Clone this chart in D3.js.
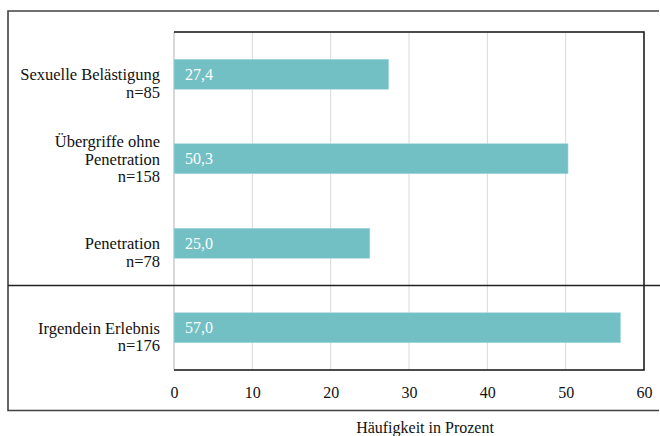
<!DOCTYPE html>
<html>
<head>
<meta charset="utf-8">
<script src="https://cdn.jsdelivr.net/npm/d3@7"></script>
<style>
  body { margin: 0; background: #fff; }
</style>
</head>
<body>
<svg width="660" height="436"></svg>
<script>
const categories = [
    ['Sexuelle Belästigung', 'n=85'],
    ['Übergriffe ohne', 'Penetration', 'n=158'],
    ['Penetration', 'n=78'],
    ['Irgendein Erlebnis', 'n=176']
]
const values = [27.4, 50.3, 25.0, 57.0]
const ticks = [0, 10, 20, 30, 40, 50, 60]
const axisTitle = 'Häufigkeit in Prozent'

const FONT = "'Liberation Serif', serif"
const svg = d3.select('svg').style('font-family', FONT)
const fmt = v => d3.format('.1f')(v).replace('.', ',')

const plot = { left: 174, right: 644, top: 32, bottom: 370 }

const xScale = d3.scaleLinear()
    .domain([0, 60])
    .range([plot.left, plot.right])

const yScale = d3.scaleBand()
    .domain(d3.range(values.length))
    .range([plot.top, plot.bottom])
    .paddingInner(0.645)
    .paddingOuter(0.3225)

// outer frame (left, top, bottom)
svg.append('path')
    .attr('d', `M659,11H8V410.5H659`)
    .attr('fill', 'none')
    .attr('stroke', '#404040')
    .attr('stroke-width', 1.6)

// gridlines
svg.append('g')
    .selectAll('line')
    .data(ticks.filter(t => t > 0 && t < 60))
    .join('line')
    .attr('x1', d => xScale(d)).attr('x2', d => xScale(d))
    .attr('y1', plot.top).attr('y2', plot.bottom)
    .attr('stroke', '#d9d9d9')
    .attr('stroke-width', 1)

// left axis line (gray)
svg.append('line')
    .attr('x1', xScale(0)).attr('x2', xScale(0))
    .attr('y1', plot.top).attr('y2', plot.bottom)
    .attr('stroke', '#bfbfbf')
    .attr('stroke-width', 1.2)

// bars
svg.append('g')
    .selectAll('rect')
    .data(values)
    .join('rect')
    .attr('x', xScale(0))
    .attr('y', (d, i) => yScale(i))
    .attr('width', d => xScale(d) - xScale(0))
    .attr('height', yScale.bandwidth())
    .attr('fill', '#72bfc4')
    .attr('stroke', '#a9dadd')
    .attr('stroke-width', 0.6)

// value labels
svg.append('g')
    .selectAll('text')
    .data(values)
    .join('text')
    .attr('x', xScale(0) + 11)
    .attr('y', (d, i) => yScale(i) + yScale.bandwidth() / 2)
    .attr('dy', '0.35em')
    .attr('fill', '#fff')
    .attr('font-size', 16)
    .text(d => fmt(d))

// plot border: top, right, bottom (black)
svg.append('path')
    .attr('d', `M${plot.left},${plot.top}H${plot.right}V${plot.bottom}H${plot.left}`)
    .attr('fill', 'none')
    .attr('stroke', '#111')
    .attr('stroke-width', 1.5)

// separator line between the detail rows and the total row
const sepY = (yScale(2) + yScale.bandwidth() + yScale(3)) / 2
svg.append('line')
    .attr('x1', 8).attr('x2', 660)
    .attr('y1', sepY).attr('y2', sepY)
    .attr('stroke', '#222')
    .attr('stroke-width', 1.5)

// category labels
const lh = 17.5
const cat = svg.append('g')
categories.forEach((lines, i) => {
    const c = yScale(i) + yScale.bandwidth() / 2
    const start = c - Math.floor((lines.length - 1) / 2) * lh
    const t = cat.append('text')
        .attr('text-anchor', 'end')
        .attr('font-size', 16.5)
        .attr('fill', '#111')
    lines.forEach((s, j) => {
        t.append('tspan')
            .attr('x', 160)
            .attr('y', start + j * lh)
            .attr('dy', '0.35em')
            .text(s)
    })
})

// x axis tick labels
const xAxis = d3.axisBottom(xScale)
    .tickValues(ticks)
    .tickSize(0)
    .tickPadding(0)
const ax = svg.append('g')
    .attr('transform', `translate(0,${plot.bottom})`)
    .call(xAxis)
    .attr('font-family', null)
    .attr('font-size', null)
ax.select('.domain').remove()
ax.selectAll('text')
    .attr('y', 22)
    .attr('dy', '0.35em')
    .attr('font-size', 16)
    .attr('fill', '#111')

svg.append('text')
    .attr('x', 425)
    .attr('y', 427)
    .attr('dy', '0.35em')
    .attr('text-anchor', 'middle')
    .attr('font-size', 16)
    .attr('fill', '#111')
    .text(axisTitle)
</script>
</body>
</html>
